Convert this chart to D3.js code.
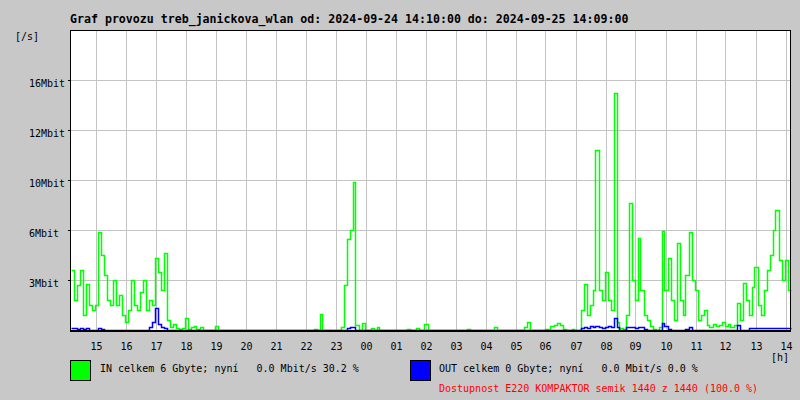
<!DOCTYPE html>
<html><head><meta charset="utf-8">
<script src="https://cdn.jsdelivr.net/npm/d3@7"></script>
<style>
html,body{margin:0;padding:0;background:#c8c8c8;}
svg{display:block;}
text{font-family:"DejaVu Sans Mono","Liberation Mono",monospace;white-space:pre;}
</style></head><body><svg id="c" width="800" height="400"></svg>
<script>
// ---- data (Mbit/s, one sample every 6 minutes from 2024-09-24 14:10 UTC) ----
const startTime = Date.UTC(2024, 8, 24, 14, 10);
const sampleMinutes = 6;

const inMbit = [
 4.0, 2.0, 3.0, 4.0, 1.0, 3.07, 1.67, 1.33, 1.67, 6.53,
 5.0, 3.67, 2.0, 1.67, 3.33, 1.67, 2.33, 1.0, 0.53, 1.33,
 3.33, 1.67, 1.33, 2.53, 3.33, 1.33, 2.0, 1.67, 4.8, 3.87,
 2.67, 5.13, 0.67, 0.2, 0.4, 0.13, 0.07, 0.13, 0.8, 0.07,
 0.2, 0.27, 0.07, 0.2, 0, 0, 0, 0, 0.27, 0,
 0, 0, 0, 0, 0, 0, 0, 0, 0, 0,
 0, 0, 0, 0, 0, 0, 0, 0, 0, 0,
 0, 0, 0, 0, 0, 0, 0, 0, 0, 0,
 0, 0.07, 0, 1.07, 0, 0, 0, 0, 0, 0,
 0.2, 3.0, 6.07, 6.67, 9.87, 0.33, 0, 0.47, 0, 0,
 0.13, 0, 0.2, 0, 0, 0, 0, 0, 0, 0,
 0, 0, 0.07, 0, 0, 0.13, 0, 0, 0.4, 0,
 0, 0, 0, 0, 0, 0, 0, 0, 0, 0,
 0, 0, 0.07, 0, 0, 0, 0, 0, 0, 0,
 0, 0.2, 0, 0, 0, 0, 0, 0, 0, 0,
 0, 0.2, 0.53, 0, 0, 0, 0, 0, 0.07, 0,
 0.27, 0.33, 0.47, 0.33, 0.07, 0, 0, 0.07, 0, 0,
 1.33, 3.07, 1.0, 1.67, 2.67, 12.0, 2.67, 2.0, 3.87, 2.0,
 1.33, 15.8, 0.53, 0.13, 0.07, 1.0, 8.47, 3.33, 2.0, 6.13,
 2.67, 1.0, 0.67, 0.27, 0.07, 0, 0.2, 6.6, 2.67, 4.8,
 2.0, 0.67, 5.8, 2.0, 1.0, 3.67, 6.53, 3.33, 2.67, 0.67,
 1.0, 1.33, 0.33, 0.2, 0.4, 0.27, 0.33, 0.53, 0.27, 0.4,
 0.2, 0.33, 1.8, 0.67, 3.13, 2.0, 1.0, 2.87, 4.2, 1.67,
 1.0, 2.67, 4.0, 5.0, 6.67, 8.0, 4.67, 3.33, 4.67, 2.67
];

const outMbit = [
 0.13, 0.13, 0.07, 0.13, 0.07, 0.13, 0, 0, 0, 0.13,
 0.07, 0, 0, 0, 0, 0, 0, 0, 0, 0,
 0, 0, 0, 0, 0, 0, 0.2, 0.53, 1.47, 0.4,
 0.2, 0.13, 0, 0, 0, 0, 0, 0, 0, 0,
 0, 0, 0, 0, 0, 0, 0, 0, 0, 0,
 0, 0, 0, 0, 0, 0, 0, 0, 0, 0,
 0, 0, 0, 0, 0, 0, 0, 0, 0, 0,
 0, 0, 0, 0, 0, 0, 0, 0, 0, 0,
 0, 0, 0, 0, 0, 0, 0, 0, 0, 0,
 0, 0, 0.13, 0.2, 0.2, 0, 0, 0, 0, 0,
 0, 0, 0, 0, 0, 0, 0, 0, 0, 0,
 0, 0, 0, 0, 0, 0, 0, 0, 0, 0,
 0, 0, 0, 0, 0, 0, 0, 0, 0, 0,
 0, 0, 0, 0, 0, 0, 0, 0, 0, 0,
 0, 0, 0, 0, 0, 0, 0, 0, 0, 0,
 0, 0, 0, 0, 0, 0, 0, 0, 0, 0,
 0, 0, 0, 0, 0, 0, 0, 0, 0, 0,
 0.13, 0.2, 0.13, 0.27, 0.2, 0.27, 0.2, 0.13, 0.2, 0.27,
 0.2, 0.8, 0.2, 0, 0, 0.2, 0.2, 0.2, 0.13, 0.2,
 0.2, 0.07, 0, 0, 0, 0, 0, 0.47, 0.27, 0.07,
 0, 0, 0, 0, 0, 0.07, 0.2, 0, 0, 0,
 0, 0, 0, 0, 0, 0, 0, 0, 0, 0,
 0, 0, 0.33, 0, 0, 0, 0.13, 0.13, 0.13, 0.13,
 0.13, 0.13, 0.13, 0.13, 0.13, 0.13, 0.13, 0.13, 0.13, 0.13
];

const yTickValues = [10/3, 20/3, 10, 40/3, 50/3];
const yTickLabels = ["3Mbit", "6Mbit", "10Mbit", "12Mbit", "16Mbit"];
const hourLabels = ["15","16","17","18","19","20","21","22","23","00","01","02","03","04","05","06","07","08","09","10","11","12","13","14"];

const titleText = "Graf provozu treb_janickova_wlan od: 2024-09-24 14:10:00 do: 2024-09-25 14:09:00";
const legendIn = "IN celkem 6 Gbyte; nyní   0.0 Mbit/s 30.2 %";
const legendOut = "OUT celkem 0 Gbyte; nyní   0.0 Mbit/s 0.0 %";
const availText = "Dostupnost E220 KOMPAKTOR semik 1440 z 1440 (100.0 %)";

// ---- drawing ----
const svg = d3.select("#c");
const endTime = startTime + 1440 * 60000;
const x = d3.scaleUtc().domain([new Date(startTime), new Date(endTime)]).range([71, 791]);
const y = d3.scaleLinear().domain([0, 20]).range([330, 30]);

svg.append("rect").attr("width", 800).attr("height", 400).attr("fill", "#c8c8c8");
svg.append("rect").attr("x", 70).attr("y", 30).attr("width", 720).attr("height", 300).attr("fill", "#ffffff");

const hourTicks = x.ticks(d3.utcHour.every(1));
const grid = svg.append("g").attr("shape-rendering", "crispEdges");
hourTicks.forEach(t => {
  grid.append("rect").attr("x", Math.floor(x(t))).attr("y", 31).attr("width", 1).attr("height", 299).attr("fill", "#c4c4c4");
});
yTickValues.forEach(v => {
  grid.append("rect").attr("x", 71).attr("y", Math.round(y(v))).attr("width", 719).attr("height", 1).attr("fill", "#c4c4c4");
  grid.append("rect").attr("x", 68).attr("y", Math.round(y(v))).attr("width", 2).attr("height", 1).attr("fill", "#000");
});

function series(arr) {
  const pts = arr.map((v, i) => ({t: new Date(startTime + i * sampleMinutes * 60000), v}));
  pts.push({t: new Date(endTime), v: arr[arr.length - 1]});
  return pts;
}
const line = d3.line().x(d => Math.floor(x(d.t)) + 0.5).y(d => Math.round(y(d.v)) + 0.5).curve(d3.curveStepAfter);

svg.append("path").datum(series(inMbit)).attr("d", line)
  .attr("fill", "none").attr("stroke", "#00ff00").attr("stroke-width", 1.5);
svg.append("path").datum(series(outMbit)).attr("d", line)
  .attr("fill", "none").attr("stroke", "#0000ff").attr("stroke-width", 1.5);

// frame
const frame = svg.append("g").attr("shape-rendering", "crispEdges");
frame.append("rect").attr("x", 70).attr("y", 30).attr("width", 721).attr("height", 1).attr("fill", "#000");
frame.append("rect").attr("x", 70).attr("y", 30).attr("width", 1).attr("height", 301).attr("fill", "#000");
frame.append("rect").attr("x", 790).attr("y", 30).attr("width", 1).attr("height", 301).attr("fill", "#000");
frame.append("rect").attr("x", 70).attr("y", 330).attr("width", 721).attr("height", 2).attr("fill", "#000");

// y labels
yTickValues.forEach((v, i) => {
  svg.append("text").attr("x", 29).attr("y", Math.round(y(v)) + 7)
    .attr("font-size", "10px").attr("fill", "#000").text(yTickLabels[i]);
});
svg.append("text").attr("x", 15).attr("y", 40).attr("font-size", "10px").text("[/s]");

// x labels
hourTicks.forEach((t, i) => {
  svg.append("text").attr("x", Math.floor(x(t)) + 0.5).attr("y", 350).attr("text-anchor", "middle")
    .attr("font-size", "10px").attr("fill", "#000").text(hourLabels[i]);
});
svg.append("text").attr("x", 771).attr("y", 361).attr("font-size", "10px").text("[h]");

// title
svg.append("text").attr("x", 70).attr("y", 23).attr("font-size", "11.6px").attr("font-weight", "bold").text(titleText);

// legend
svg.append("rect").attr("x", 70.5).attr("y", 360.5).attr("width", 20).attr("height", 20)
  .attr("fill", "#00ff00").attr("stroke", "#000");
svg.append("text").attr("x", 100).attr("y", 372).attr("font-size", "10px").text(legendIn);
svg.append("rect").attr("x", 410.5).attr("y", 360.5).attr("width", 20).attr("height", 20)
  .attr("fill", "#0000ff").attr("stroke", "#000");
svg.append("text").attr("x", 439).attr("y", 372).attr("font-size", "10px").text(legendOut);
svg.append("text").attr("x", 439).attr("y", 392).attr("font-size", "10px").attr("fill", "#ff0000").text(availText);
</script></body></html>
